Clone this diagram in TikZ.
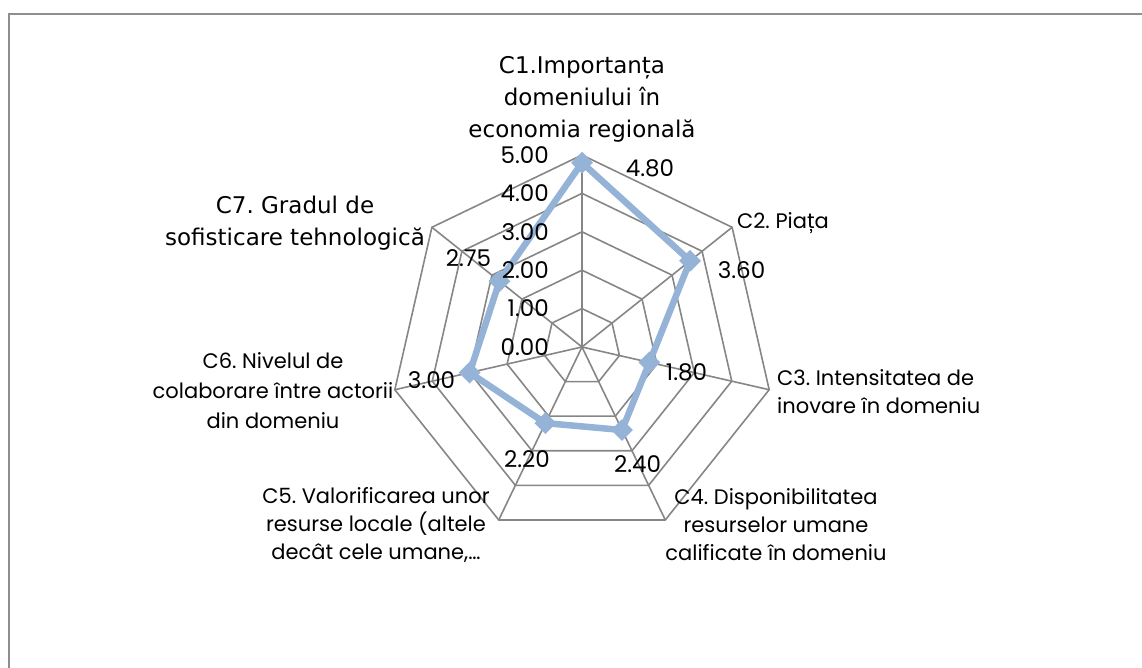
\documentclass[tikz,border=0pt]{standalone}
\usepackage{fontspec}
\setmainfont{Poppins}
\newfontfamily\verdfont{DejaVu Sans}
\usetikzlibrary{shapes.geometric}
\definecolor{gridgrey}{HTML}{868686}
\definecolor{framegrey}{HTML}{8E8E8E}
\definecolor{seriesblue}{HTML}{95B3D7}
\def\unitr{38.4}
\def\nax{7}
\frenchspacing

\begin{document}
\begin{tikzpicture}[x=1pt,y=1pt,
  gridline/.style={draw=gridgrey, line width=1.6pt},
  serieslink/.style={draw=seriesblue, line width=6.5pt, line join=round},
  marker/.style={diamond, fill=seriesblue, inner sep=0pt, minimum size=22pt},
  catlabel/.style={font=\fontsize{21}{28}\selectfont, align=center, inner sep=0pt},
  biglabel/.style={font=\verdfont\fontsize{23}{32}\selectfont, align=center, inner sep=0pt},
  numlabel/.style={font=\fontsize{23}{26}\selectfont, inner sep=0pt}]
			%%%%% START %%%%%
			\useasboundingbox (0, 0) rectangle (1142, 668);
			\draw[framegrey, line width=2pt] (8.5, -20) rectangle (1170, 653.5);
			
			\begin{scope}[shift={(582, 321)}]
			% rings and spokes
			\foreach \lv in {1,...,5}
				\draw[gridline] (90:\lv*\unitr) \foreach \k in {1,...,6} { -- ({90-\k*360/\nax}:\lv*\unitr) } -- cycle;
			\foreach \k in {0,...,6}
				\draw[gridline] (0, 0) -- ({90-\k*360/\nax}:5*\unitr);
			
			% the series
			\foreach \v [count=\k from 0] in {4.8, 3.6, 1.8, 2.4, 2.2, 3.0, 2.75}
				\coordinate (p\k) at ({90-\k*360/\nax}:\v*\unitr);
			\draw[serieslink] (p0) -- (p1) -- (p2) -- (p3) -- (p4) -- (p5) -- (p6) -- cycle;
			\foreach \k in {0,...,6}
				\node[marker] (m\k) at (p\k) {};
			
			% axis values
			\foreach \lv in {0,...,5}
				\node[numlabel, anchor=east] (tick\lv) at (-33, \lv*\unitr) {\lv.00};
			\end{scope}
			
			% data labels
			\node[numlabel] (v1) at (650, 500) {4.80};
			\node[numlabel] (v2) at (741.5, 398) {3.60};
			\node[numlabel] (v3) at (686.5, 296) {1.80};
			\node[numlabel] (v4) at (637.5, 204) {2.40};
			\node[numlabel] (v5) at (527, 209) {2.20};
			\node[numlabel] (v6) at (431.5, 288) {3.00};
			\node[numlabel] (v7) at (468.5, 410) {2.75};
			
			% category labels
			\node[biglabel] (c1) at (582, 569) {C1.Importanța\\domeniului în\\economia regională};
			\node[catlabel, anchor=west] (c2) at (737, 445) {C2. Piața};
			\node[catlabel, anchor=west, align=left] (c3) at (777, 276.5) {C3. Intensitatea de\\inovare în domeniu};
			\node[catlabel] (c4) at (776, 143) {C4. Disponibilitatea\\resurselor umane\\calificate în domeniu};
			\node[catlabel] (c5) at (376, 143) {C5. Valorificarea unor\\resurse locale (altele\\decât cele umane,…};
			\node[catlabel, font=\fontsize{21}{30}\selectfont] (c6) at (273, 277) {C6. Nivelul de\\colaborare între actorii\\din domeniu};
			\node[biglabel] (c7) at (295, 444.5) {C7. Gradul de\\sofisticare tehnologică};
			%%%%% END %%%%%
\end{tikzpicture}
\end{document}
